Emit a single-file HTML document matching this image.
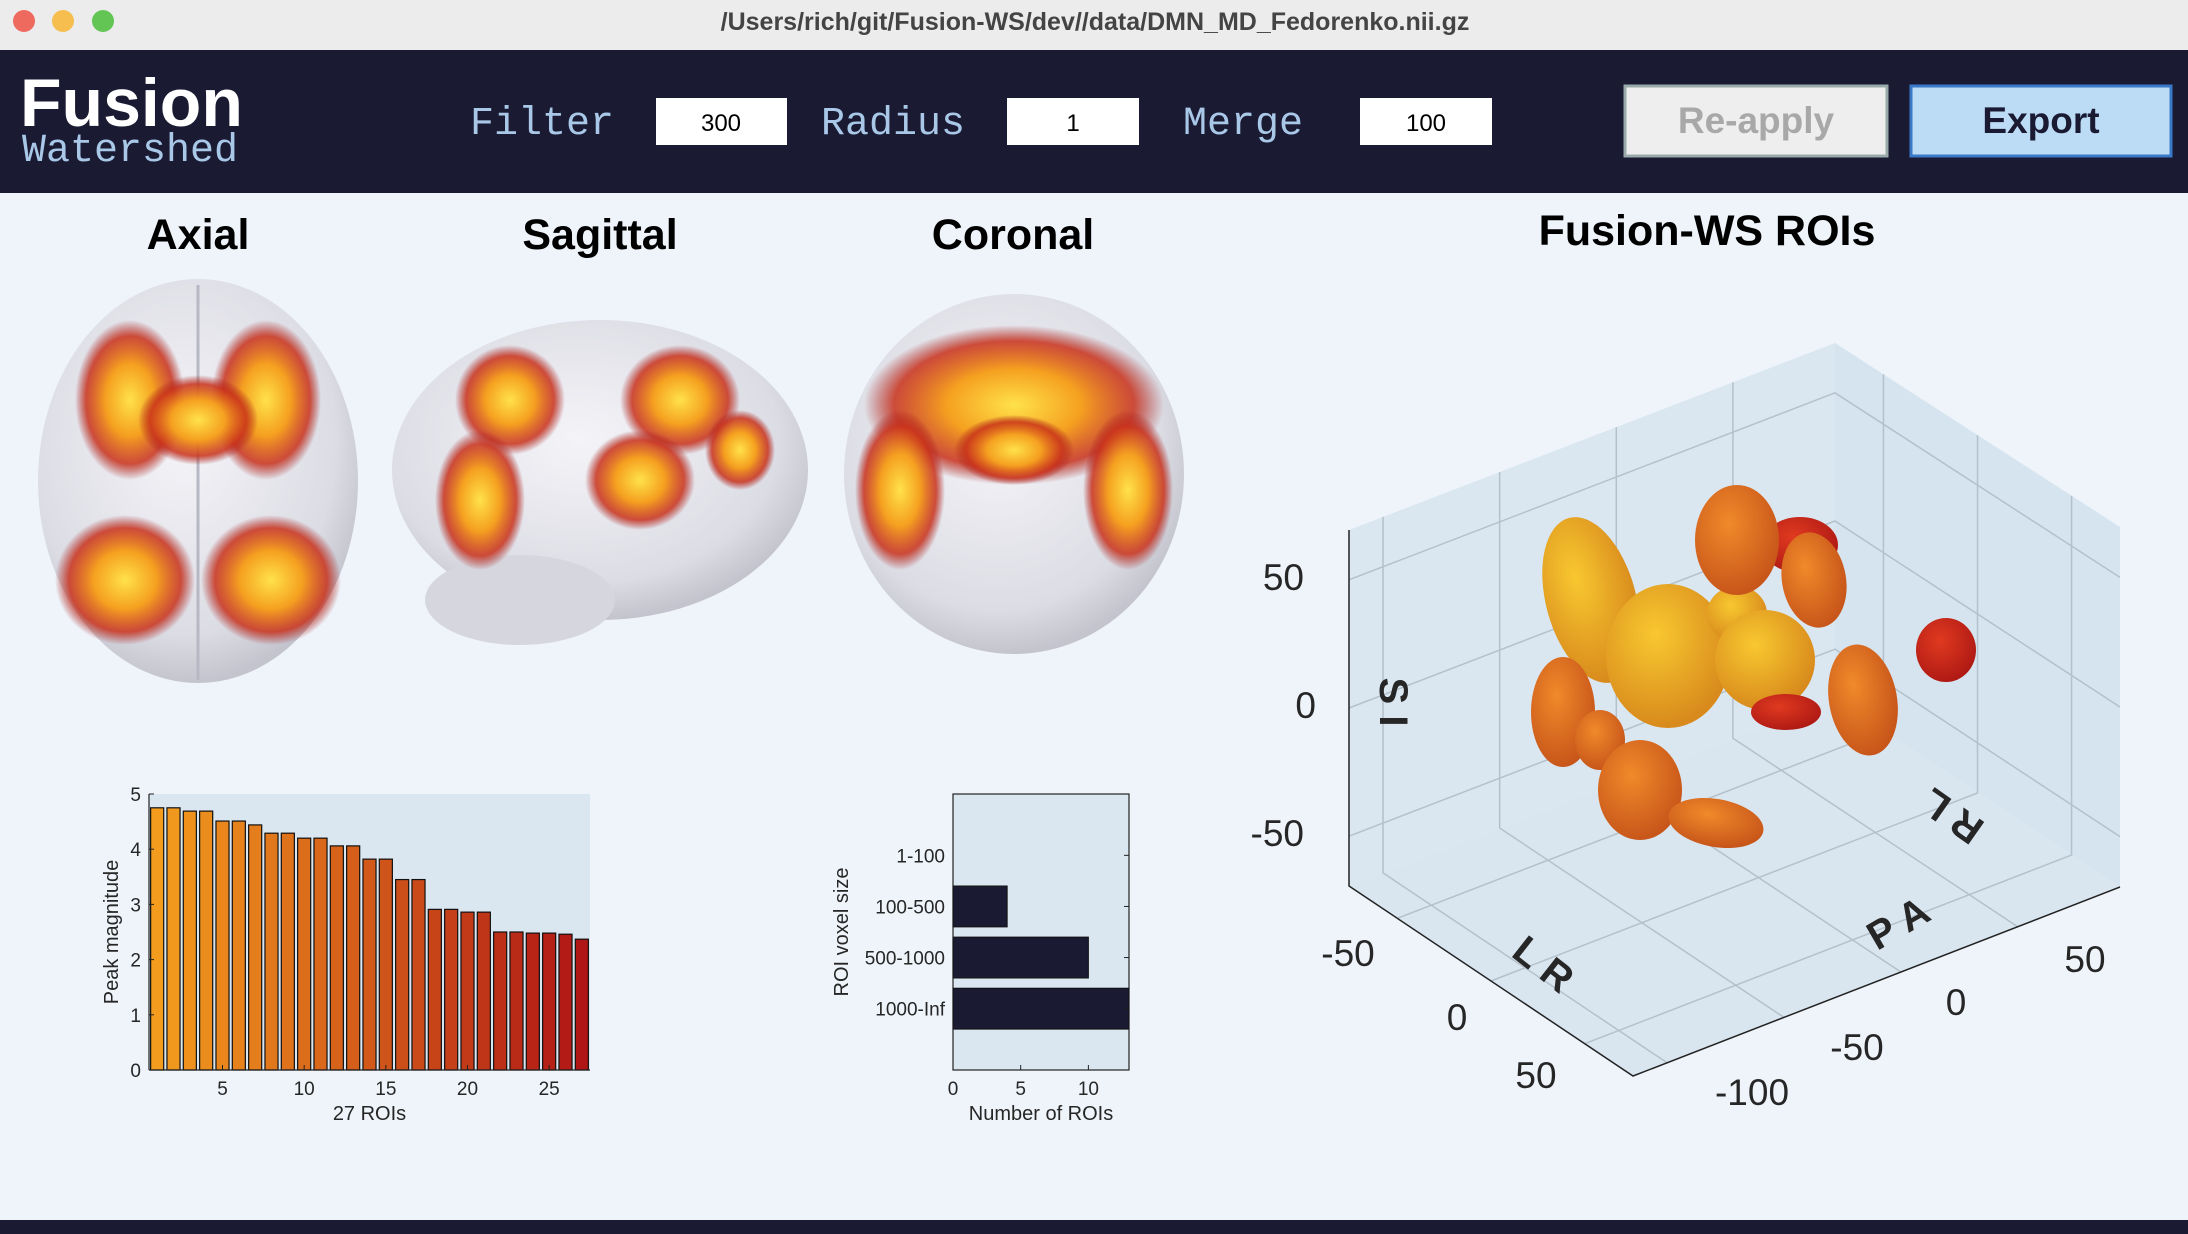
<!DOCTYPE html>
<html><head><meta charset="utf-8"><style>
html,body{margin:0;padding:0;width:2188px;height:1234px;overflow:hidden;background:#eef4fa;font-family:"Liberation Sans",sans-serif}
svg{display:block}
</style></head><body>
<svg id="root" width="2188" height="1234" viewBox="0 0 2188 1234" xmlns="http://www.w3.org/2000/svg">
<defs>
<radialGradient id="hot" cx="50%" cy="50%" r="50%"><stop offset="0%" stop-color="#ffe24a"/><stop offset="45%" stop-color="#f5a020"/><stop offset="80%" stop-color="#c8301a" stop-opacity="0.85"/><stop offset="100%" stop-color="#a01818" stop-opacity="0"/></radialGradient>
<radialGradient id="brain" cx="45%" cy="40%" r="60%"><stop offset="0%" stop-color="#f4f4f8"/><stop offset="80%" stop-color="#dcdce4"/><stop offset="100%" stop-color="#c4c4ce"/></radialGradient>
<radialGradient id="blobY" cx="40%" cy="35%" r="65%"><stop offset="0%" stop-color="#f8c830"/><stop offset="100%" stop-color="#d88a1c"/></radialGradient>
<radialGradient id="blobO" cx="40%" cy="35%" r="65%"><stop offset="0%" stop-color="#f08a2a"/><stop offset="100%" stop-color="#c8561a"/></radialGradient>
<radialGradient id="blobR" cx="40%" cy="35%" r="65%"><stop offset="0%" stop-color="#e03a20"/><stop offset="100%" stop-color="#b01a14"/></radialGradient>
</defs>
<!-- title bar -->
<rect x="0" y="0" width="2188" height="50" fill="#ececec"/>
<circle cx="24" cy="21" r="11" fill="#ee6a5f"/>
<circle cx="63" cy="21" r="11" fill="#f5be4f"/>
<circle cx="103" cy="21" r="11" fill="#62c554"/>
<text x="1095" y="30" text-anchor="middle" font-size="25" font-weight="bold" fill="#444">/Users/rich/git/Fusion-WS/dev//data/DMN_MD_Fedorenko.nii.gz</text>
<!-- header -->
<rect x="0" y="50" width="2188" height="143" fill="#1a1a33"/>
<text x="20" y="126" font-size="68" font-weight="bold" fill="#ffffff">Fusion</text>
<text x="22" y="161" font-size="40" font-family="Liberation Mono,monospace" fill="#a9c8e8">Watershed</text>
<text x="470" y="134" font-size="40" font-family="Liberation Mono,monospace" fill="#a9c8e8">Filter</text>
<rect x="656" y="98" width="131" height="47" fill="#fff"/>
<text x="721" y="131" text-anchor="middle" font-size="24" fill="#000">300</text>
<text x="821" y="134" font-size="40" font-family="Liberation Mono,monospace" fill="#a9c8e8">Radius</text>
<rect x="1007" y="98" width="132" height="47" fill="#fff"/>
<text x="1073" y="131" text-anchor="middle" font-size="24" fill="#000">1</text>
<text x="1183" y="134" font-size="40" font-family="Liberation Mono,monospace" fill="#a9c8e8">Merge</text>
<rect x="1360" y="98" width="132" height="47" fill="#fff"/>
<text x="1426" y="131" text-anchor="middle" font-size="24" fill="#000">100</text>
<g><rect x="1625" y="86" width="262" height="70" fill="#eeeeee" stroke="#9aa" stroke-width="3"/>
<text x="1756" y="133" text-anchor="middle" font-size="37" font-weight="bold" fill="#a8a8a8">Re-apply</text></g>
<g><rect x="1911" y="86" width="260" height="70" fill="#bcdcf6" stroke="#3a78c8" stroke-width="3"/>
<text x="2041" y="133" text-anchor="middle" font-size="37" font-weight="bold" fill="#1a1a33">Export</text></g>
<!-- section titles -->
<text x="198" y="249" text-anchor="middle" font-size="43" font-weight="bold" fill="#000">Axial</text>
<text x="600" y="249" text-anchor="middle" font-size="43" font-weight="bold" fill="#000">Sagittal</text>
<text x="1013" y="249" text-anchor="middle" font-size="43" font-weight="bold" fill="#000">Coronal</text>
<text x="1707" y="245" text-anchor="middle" font-size="43" font-weight="bold" fill="#000">Fusion-WS ROIs</text>
<!-- brains -->
<g>
<ellipse cx="198" cy="481" rx="160" ry="202" fill="url(#brain)"/>
<line x1="198" y1="285" x2="198" y2="680" stroke="#b8b8c4" stroke-width="3"/>
<ellipse cx="130" cy="400" rx="55" ry="80" fill="url(#hot)"/><ellipse cx="266" cy="400" rx="55" ry="80" fill="url(#hot)"/>
<ellipse cx="198" cy="420" rx="60" ry="45" fill="url(#hot)"/>
<ellipse cx="125" cy="580" rx="70" ry="65" fill="url(#hot)"/><ellipse cx="271" cy="580" rx="70" ry="65" fill="url(#hot)"/>
</g>
<g>
<ellipse cx="600" cy="470" rx="208" ry="150" fill="url(#brain)"/>
<ellipse cx="520" cy="600" rx="95" ry="45" fill="#d6d6de"/>
<ellipse cx="510" cy="400" rx="55" ry="55" fill="url(#hot)"/>
<ellipse cx="480" cy="500" rx="45" ry="70" fill="url(#hot)"/>
<ellipse cx="680" cy="400" rx="60" ry="55" fill="url(#hot)"/>
<ellipse cx="640" cy="480" rx="55" ry="50" fill="url(#hot)"/>
<ellipse cx="740" cy="450" rx="35" ry="40" fill="url(#hot)"/>
</g>
<g>
<ellipse cx="1014" cy="474" rx="170" ry="180" fill="url(#brain)"/>
<ellipse cx="1014" cy="405" rx="150" ry="80" fill="url(#hot)"/>
<ellipse cx="900" cy="490" rx="45" ry="80" fill="url(#hot)"/><ellipse cx="1128" cy="490" rx="45" ry="80" fill="url(#hot)"/>
<ellipse cx="1014" cy="450" rx="60" ry="35" fill="url(#hot)"/>
</g>
<!-- bar chart -->
<g id="barChart"></g>
<g id="hbarChart"></g>
<!-- 3D plot -->
<g id="plot3d"></g>
<rect x="0" y="1220" width="2188" height="14" fill="#1a1a33"/>
</svg>
<script>
const NS="http://www.w3.org/2000/svg";
function mk(tag,attrs,parent,txt){const e=document.createElementNS(NS,tag);for(const k in attrs)e.setAttribute(k,attrs[k]);if(txt!==undefined)e.textContent=txt;parent.appendChild(e);return e;}

// ---- bar chart data ----
const roiIndex=[1,2,3,4,5,6,7,8,9,10,11,12,13,14,15,16,17,18,19,20,21,22,23,24,25,26,27];
const peakValues=[4.75,4.75,4.69,4.69,4.51,4.51,4.44,4.29,4.29,4.20,4.20,4.06,4.06,3.82,3.82,3.45,3.45,2.91,2.91,2.86,2.86,2.50,2.50,2.48,2.48,2.46,2.37];
const barYTicks=[0,1,2,3,4,5];
const barXTicks=[5,10,15,20,25];

// ---- hbar chart data ----
const sizeCategories=["1-100","100-500","500-1000","1000-Inf"];
const sizeCounts=[0,4,10,13];
const hbarXTicks=[0,5,10];

(function(){
 const g=document.getElementById('barChart');
 const L=149,R=590,T=794,B=1070;
 const xs=v=>L+(v-0.5)/27*(R-L);
 const ys=v=>B-v/5*(B-T);
 const bg=mk('rect',{x:L,y:T,width:R-L,height:B-T,fill:'#dae7f1'},g);
 
 
 const c0=[243,156,30],c1=[176,22,22];
 roiIndex.forEach((r,i)=>{
  const t=i/(roiIndex.length-1);
  const col=`rgb(${c0.map((c,k)=>Math.round(c+(c1[k]-c)*t)).join(',')})`;
  const w=(R-L)/27*0.8;
  const b=mk('rect',{x:xs(r)-w/2,y:ys(peakValues[i]),width:w,height:ys(0)-ys(peakValues[i]),fill:col,stroke:'#111','stroke-width':1.2},g);
  
  
 });
 mk('line',{x1:L,y1:T,x2:L,y2:B,stroke:'#222','stroke-width':1.2},g);
 mk('line',{x1:L,y1:B,x2:R,y2:B,stroke:'#222','stroke-width':1.2},g);
 barYTicks.forEach(v=>{
  mk('line',{x1:L,y1:ys(v),x2:L+5,y2:ys(v),stroke:'#222'},g);
  const t=mk('text',{x:L-8,y:ys(v)+7,'text-anchor':'end','font-size':19,fill:'#262626'},g,String(v));
  
  
 });
 barXTicks.forEach(v=>{
  mk('line',{x1:xs(v),y1:B,x2:xs(v),y2:B-5,stroke:'#222'},g);
  const t=mk('text',{x:xs(v),y:B+25,'text-anchor':'middle','font-size':19,fill:'#262626'},g,String(v));
  
  
 });
 const xt=mk('text',{x:(L+R)/2,y:B+50,'text-anchor':'middle','font-size':20,fill:'#262626'},g,roiIndex.length+' ROIs');
 
 
 const yt=mk('text',{x:0,y:0,'text-anchor':'middle','font-size':20,fill:'#262626',transform:`translate(118,${(T+B)/2}) rotate(-90)`},g,'Peak magnitude');
 
 
})();

(function(){
 const g=document.getElementById('hbarChart');
 const L=953,R=1129,T=794,B=1070;
 const xs=v=>L+v/13*(R-L);
 const ys=i=>T+(i+1.2)/5.4*(B-T);
 const bg=mk('rect',{x:L,y:T,width:R-L,height:B-T,fill:'#dae7f1',stroke:'#222','stroke-width':1.2},g);
 
 
 const bh=0.8/5.4*(B-T);
 sizeCategories.forEach((c,i)=>{
  if(sizeCounts[i]>0){
   const b=mk('rect',{x:L,y:ys(i)-bh/2,width:xs(sizeCounts[i])-L,height:bh,fill:'#1a1a33',stroke:'#111'},g);
   
   
  }
  mk('line',{x1:R,y1:ys(i),x2:R-5,y2:ys(i),stroke:'#222'},g);
  const t=mk('text',{x:L-8,y:ys(i)+7,'text-anchor':'end','font-size':19,fill:'#262626'},g,c);
  
  
 });
 hbarXTicks.forEach(v=>{
  mk('line',{x1:xs(v),y1:B,x2:xs(v),y2:B-5,stroke:'#222'},g);
  const t=mk('text',{x:xs(v),y:B+25,'text-anchor':'middle','font-size':19,fill:'#262626'},g,String(v));
  
  
 });
 const xt=mk('text',{x:1041,y:B+50,'text-anchor':'middle','font-size':20,fill:'#262626'},g,'Number of ROIs');
 
 
 const yt=mk('text',{x:0,y:0,'text-anchor':'middle','font-size':20,fill:'#262626',transform:`translate(848,${(T+B)/2}) rotate(-90)`},g,'ROI voxel size');
 
 
})();

(function(){
 const g=document.getElementById('plot3d');
 const LT=[1349,530],LB=[1349,886],BT=[1835,343],BB=[1835,699],RT=[2120,527],RB=[2120,887],FB=[1633,1076];
 const P=a=>a.join(',');
 const lw=mk('polygon',{points:[LT,BT,BB,LB].map(P).join(' '),fill:'#dae7f1'},g);
 
 const rw=mk('polygon',{points:[BT,RT,RB,BB].map(P).join(' '),fill:'#d6e4ef'},g);
 
 const fl=mk('polygon',{points:[LB,BB,RB,FB].map(P).join(' '),fill:'#d9e6f0'},g);
 
 const gl={stroke:'#b4c0ca','stroke-width':1.5,fill:'none'};
 const lerp=(a,b,t)=>[a[0]+(b[0]-a[0])*t,a[1]+(b[1]-a[1])*t];
 [0.14,0.5,0.86].forEach(t=>{const a=lerp(LT,LB,t),b=lerp(BT,BB,t),c=lerp(RT,RB,t);mk('polyline',Object.assign({points:[a,b,c].map(P).join(' ')},gl),g);});
 [0.17,0.5,0.83].forEach(t=>{const a=lerp(LB,FB,t),b=lerp(BB,RB,t),c=lerp(BT,RT,t);mk('polyline',Object.assign({points:[a,b,c].map(P).join(' ')},gl),g);});
 [0.07,0.31,0.55,0.79].forEach(t=>{const a=lerp(FB,RB,t),b=lerp(LB,BB,t),c=lerp(LT,BT,t);mk('polyline',Object.assign({points:[a,b,c].map(P).join(' ')},gl),g);});
 mk('polyline',{points:[LT,LB,FB,RB].map(P).join(' '),stroke:'#222','stroke-width':1.5,fill:'none'},g);
 const blobs=[[1591,600,45,85,-15,'blobY'],[1563,712,32,55,0,'blobO'],[1600,740,25,30,0,'blobO'],[1668,656,62,72,0,'blobY'],[1737,614,30,28,0,'blobY'],[1765,660,50,50,0,'blobY'],[1640,790,42,50,0,'blobO'],[1716,823,48,24,10,'blobO'],[1800,545,38,28,0,'blobR'],[1737,540,42,55,0,'blobO'],[1814,580,32,48,-10,'blobO'],[1863,700,34,56,-10,'blobO'],[1946,650,30,32,0,'blobR'],[1786,712,35,18,0,'blobR']];
 blobs.forEach(b=>{const e=mk('ellipse',{cx:b[0],cy:b[1],rx:b[2],ry:b[3],transform:`rotate(${b[4]} ${b[0]} ${b[1]})`,fill:`url(#${b[5]})`},g);
  
  });
 const labels=[[1304,590,'50','end'],[1316,718,'0','end'],[1304,846,'-50','end'],[1348,966,'-50','middle'],[1457,1030,'0','middle'],[1536,1088,'50','middle'],[1752,1105,'-100','middle'],[1857,1060,'-50','middle'],[1956,1015,'0','middle'],[2085,972,'50','middle']];
 labels.forEach(l=>{const t=mk('text',{x:l[0],y:l[1],'text-anchor':l[3],'font-size':37,fill:'#262626'},g,l[2]);
  
  });
 const ax=[[1380,702,90,'S I'],[1535,975,38,'L R'],[1905,935,-30,'P A'],[1960,805,215,'R L']];
 ax.forEach(a=>{const t=mk('text',{x:0,y:0,'text-anchor':'middle','font-size':40,'font-weight':'bold',fill:'#262626',transform:`translate(${a[0]},${a[1]}) rotate(${a[2]})`},g,a[3]);
  
  });
})();
</script>
</body></html>
